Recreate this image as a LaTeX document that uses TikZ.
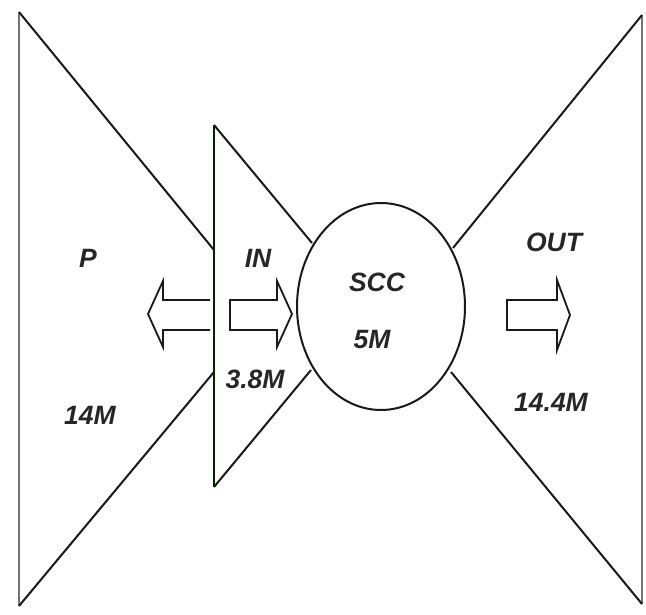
\documentclass[tikz,border=0pt]{standalone}
\usepackage{fontspec}
\setmainfont{Liberation Sans}
\usetikzlibrary{calc,shapes.geometric}
\begin{document}
\begin{tikzpicture}[x=1pt,y=-1pt,
  edge/.style={draw=black!90,line width=2pt},
  outer/.style={draw=black!55,line width=2.2pt},
  blockarrow/.style={draw=black!90,line width=1.8pt,fill=white,line join=miter},
  lbl/.style={font=\fontsize{26.5}{28}\selectfont\bfseries\itshape,inner sep=0pt,text=black!85}]
\useasboundingbox (0,0) rectangle (646,614);
% SCC core
\node[draw=black!90,line width=2pt,ellipse,minimum width=168pt,minimum height=207pt,inner sep=0pt] (scc) at (381,306.5) {};
% left (P) triangle
\coordinate (pt) at (19,12);
\coordinate (pb) at (19,606);
\coordinate (pu) at (214,250);
\coordinate (pl) at (214,372);
\draw[outer] (pt) -- (pb);
\draw[edge] (pt) -- (pu);
\draw[edge] (pb) -- (pl);
% IN triangle
\coordinate (it) at (214,125);
\coordinate (ib) at (214,487);
\coordinate (iu) at (312,243);
\coordinate (il) at (311,370);
\draw[edge,draw=black!85!green] (it) -- (ib);
\draw[edge] (it) -- (iu);
\draw[edge] (ib) -- (il);
% OUT triangle
\coordinate (ot) at (642,15);
\coordinate (ob) at (642,604);
\coordinate (ou) at (453,248);
\coordinate (ol) at (451,372);
\draw[outer] (ot) -- (ob);
\draw[edge] (ot) -- (ou);
\draw[edge] (ob) -- (ol);
% block arrows
\draw[blockarrow] (210,300) -- (163,300) -- (163,281) -- (148,314) -- (163,347) -- (163,330) -- (210,330);
\draw[blockarrow] (230,300) -- (277,300) -- (277,281) -- (292,314) -- (277,347) -- (277,330) -- (230,330) -- cycle;
\draw[blockarrow] (507,300) -- (557,300) -- (557,280) -- (570,315) -- (557,350) -- (557,330) -- (507,330) -- cycle;
% labels
\node[lbl] (lp) at (88,258) {P};
\node[lbl] (lin) at (258,258) {IN};
\node[lbl] (lscc) at (377,282) {SCC};
\node[lbl] (l5) at (372,340) {5M};
\node[lbl] (lout) at (554,242) {OUT};
\node[lbl] (l14) at (90,415) {14M};
\node[lbl] (l38) at (255,379) {3.8M};
\node[lbl] (l144) at (551,402) {14.4M};
\end{tikzpicture}
\end{document}
